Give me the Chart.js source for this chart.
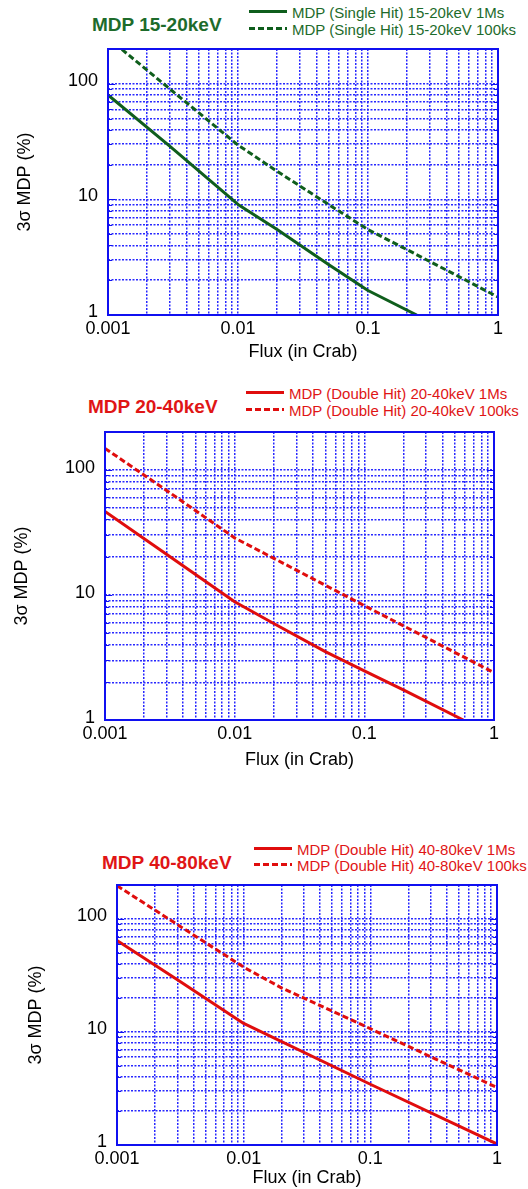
<!DOCTYPE html>
<html>
<head>
<meta charset="utf-8">
<script src="https://cdn.jsdelivr.net/npm/chart.js@4.4.1/dist/chart.umd.min.js"></script>
<style>
  body { margin: 0; background: #fff; width: 528px; height: 1189px; overflow: hidden; position: relative;
         font-family: "Liberation Sans", Arial, sans-serif; }
  canvas { position: absolute; left: 0; }
  .ttl { position: absolute; font-weight: bold; font-size: 19px; line-height: 20px; white-space: nowrap; }
  .row { position: absolute; font-size: 15px; line-height: 16px; white-space: nowrap; padding-left: 43px; }
  .row i { position: absolute; left: 0; top: 5px; width: 38px; height: 3px; }
  .green { color: #1d6b2b; }
  .red { color: #e01515; }
</style>
</head>
<body>

<!-- panel 1 -->
<div class="ttl green" style="left:92px;top:15px">MDP 15-20keV</div>
<div class="row green" style="left:249px;top:5px"><i style="background:#0f5e1c"></i>MDP (Single Hit) 15-20keV 1Ms</div>
<div class="row green" style="left:249px;top:22px"><i style="background:repeating-linear-gradient(90deg,#0f5e1c 0 6px,transparent 6px 9px)"></i>MDP (Single Hit) 15-20keV 100ks</div>
<canvas id="c1" width="528" height="370" style="top:0"></canvas>

<!-- panel 2 -->
<div class="ttl red" style="left:88px;top:397px">MDP 20-40keV</div>
<div class="row red" style="left:246px;top:386px"><i style="background:#e00d0d"></i>MDP (Double Hit) 20-40keV 1Ms</div>
<div class="row red" style="left:246px;top:403px"><i style="background:repeating-linear-gradient(90deg,#e00d0d 0 6px,transparent 6px 9px)"></i>MDP (Double Hit) 20-40keV 100ks</div>
<canvas id="c2" width="528" height="410" style="top:370px"></canvas>

<!-- panel 3 -->
<div class="ttl red" style="left:102px;top:853px">MDP 40-80keV</div>
<div class="row red" style="left:254px;top:842px"><i style="background:#e00d0d"></i>MDP (Double Hit) 40-80keV 1Ms</div>
<div class="row red" style="left:254px;top:858px"><i style="background:repeating-linear-gradient(90deg,#e00d0d 0 6px,transparent 6px 9px)"></i>MDP (Double Hit) 40-80keV 100ks</div>
<canvas id="c3" width="528" height="369" style="top:820px"></canvas>

<script>
/* ----------------------------------------------------------
   DATA
---------------------------------------------------------- */
const xMajor = [0.001, 0.01, 0.1, 1];
const xMajorLabels = ["0.001", "0.01", "0.1", "1"];
const yMajor = [1, 10, 100];
const yMajorLabels = ["1", "10", "100"];
const yTop = 200;

// 15-20keV single hit
const single1MsFlux = [0.001, 0.003, 0.01, 0.02, 0.05, 0.1, 0.237];
const single1MsMdp  = [80, 28.8, 9.05, 5.48, 2.72, 1.63, 1.0];
const single100ksFlux = [0.001, 0.003, 0.01, 0.02, 0.05, 0.1, 0.2, 0.5, 1];
const single100ksMdp  = [249, 90, 29.5, 17.5, 9.0, 5.48, 3.67, 2.15, 1.43];

// 20-40keV double hit
const dbl2040_1MsFlux = [0.001, 0.003, 0.01, 0.02, 0.05, 0.1, 0.2, 0.58];
const dbl2040_1MsMdp  = [46.4, 21, 8.8, 5.9, 3.52, 2.47, 1.74, 1.0];
const dbl2040_100ksFlux = [0.001, 0.003, 0.01, 0.1, 1];
const dbl2040_100ksMdp  = [148, 68, 28.5, 8.2, 2.39];

// 40-80keV double hit
const dbl4080_1MsFlux = [0.001, 0.003, 0.01, 0.1, 1];
const dbl4080_1MsMdp  = [64.5, 29, 11.9, 3.45, 1.02];
const dbl4080_100ksFlux = [0.001, 0.01, 0.02, 0.1, 1];
const dbl4080_100ksMdp  = [197, 37.5, 24.5, 10.7, 3.23];

/* ----------------------------------------------------------
   STYLE
---------------------------------------------------------- */
const FONT = "'Liberation Sans', Arial, sans-serif";
const GRID_BLUE = "#2828ff";
const EDGE_BLUE = "#1010f0";
const GREEN = "#0f5e1c";
const RED = "#e00d0d";

function pts(xs, ys) {
  return xs.map((x, i) => ({ x: x, y: ys[i] }));
}

// 1..9 x each decade between the major values
function logGrid(majors, top) {
  const out = [];
  for (let d = 0; d < majors.length - 1; d++) {
    for (let m = 1; m < 10; m++) out.push(+(majors[d] * m).toPrecision(6));
  }
  const last = majors[majors.length - 1];
  for (let m = 1; last * m <= top + 1e-9; m++) out.push(+(last * m).toPrecision(6));
  return out;
}

function majorLabel(v, majors, labels) {
  const i = majors.findIndex(m => Math.abs(m - v) < m * 1e-6);
  return i >= 0 ? labels[i] : "";
}

/* ----------------------------------------------------------
   FRAME + INNER TICKS
---------------------------------------------------------- */
const framePlugin = {
  id: "frame",
  afterDatasetsDraw(chart) {
    const { ctx, chartArea: a } = chart;
    const ys = chart.scales.y;
    ctx.save();
    ctx.strokeStyle = EDGE_BLUE;
    ctx.lineWidth = 1;
    ys.ticks.forEach(t => {
      const py = Math.round(ys.getPixelForValue(t.value)) + 0.5;
      const len = yMajor.includes(t.value) ? 7 : 4;
      ctx.beginPath();
      ctx.moveTo(a.left, py); ctx.lineTo(a.left + len, py);
      ctx.moveTo(a.right, py); ctx.lineTo(a.right - len, py);
      ctx.stroke();
    });
    ctx.lineWidth = 2;
    ctx.strokeRect(a.left, a.top, a.right - a.left, a.bottom - a.top);
    ctx.restore();
  }
};

/* ----------------------------------------------------------
   BUILD ONE PANEL
---------------------------------------------------------- */
function buildPanel(id, o) {
  return new Chart(document.getElementById(id), {
    type: "line",
    data: {
      datasets: [
        { label: o.names[0], data: o.solid, borderColor: o.color, borderWidth: 3,
          pointRadius: 0, tension: 0, borderJoinStyle: "round" },
        { label: o.names[1], data: o.dashed, borderColor: o.color, borderWidth: 3,
          borderDash: [6, 3], pointRadius: 0, tension: 0 }
      ]
    },
    options: {
      responsive: false,
      animation: false,
      devicePixelRatio: 1,
      layout: { padding: { left: 0, top: o.top, right: o.right, bottom: 0 } },
      plugins: { legend: { display: false }, tooltip: { enabled: false } },
      scales: {
        x: {
          type: "logarithmic", min: xMajor[0], max: xMajor[xMajor.length - 1],
          afterBuildTicks: s => { s.ticks = logGrid(xMajor, 1).map(v => ({ value: v })); },
          afterFit: s => { s.height = o.xh; },
          ticks: { autoSkip: false, maxRotation: 0, padding: 3, color: "#000",
                   font: { family: FONT, size: 18 },
                   callback: v => majorLabel(v, xMajor, xMajorLabels) },
          grid: { color: GRID_BLUE, lineWidth: 1.5, drawTicks: false },
          border: { display: false, dash: [2, 1.5] },
          title: { display: true, text: "Flux (in Crab)", color: "#000",
                   font: { family: FONT, size: 18 }, padding: { top: 0, bottom: o.xtb } }
        },
        y: {
          type: "logarithmic", min: yMajor[0], max: yTop,
          afterBuildTicks: s => { s.ticks = logGrid(yMajor, yTop).map(v => ({ value: v })); },
          afterFit: s => { s.width = o.yw; },
          ticks: { autoSkip: false, padding: 10, color: "#000", labelOffset: o.lo,
                   font: { family: FONT, size: 18 },
                   callback: v => majorLabel(v, yMajor, yMajorLabels) },
          grid: { color: GRID_BLUE, lineWidth: 1.5, drawTicks: false },
          border: { display: false, dash: [2, 1.5] },
          title: { display: true, text: "3σ MDP (%)", color: "#000",
                   font: { family: FONT, size: 18 }, padding: { top: o.ytp, bottom: 0 } }
        }
      }
    },
    plugins: [framePlugin]
  });
}

buildPanel("c1", {
  names: ["MDP (Single Hit) 15-20keV 1Ms", "MDP (Single Hit) 15-20keV 100ks"],
  color: GREEN,
  solid: pts(single1MsFlux, single1MsMdp),
  dashed: pts(single100ksFlux, single100ksMdp),
  top: 49, right: 30, yw: 108, xh: 55, xtb: 7, ytp: 14, lo: -3
});

buildPanel("c2", {
  names: ["MDP (Double Hit) 20-40keV 1Ms", "MDP (Double Hit) 20-40keV 100ks"],
  color: RED,
  solid: pts(dbl2040_1MsFlux, dbl2040_1MsMdp),
  dashed: pts(dbl2040_100ksFlux, dbl2040_100ksMdp),
  top: 62, right: 34, yw: 105, xh: 60, xtb: 9, ytp: 11, lo: -1.5
});

buildPanel("c3", {
  names: ["MDP (Double Hit) 40-80keV 1Ms", "MDP (Double Hit) 40-80keV 100ks"],
  color: RED,
  solid: pts(dbl4080_1MsFlux, dbl4080_1MsMdp),
  dashed: pts(dbl4080_100ksFlux, dbl4080_100ksMdp),
  top: 65, right: 31, yw: 117, xh: 44, xtb: 0, ytp: 25, lo: -2.7
});
</script>
</body>
</html>
